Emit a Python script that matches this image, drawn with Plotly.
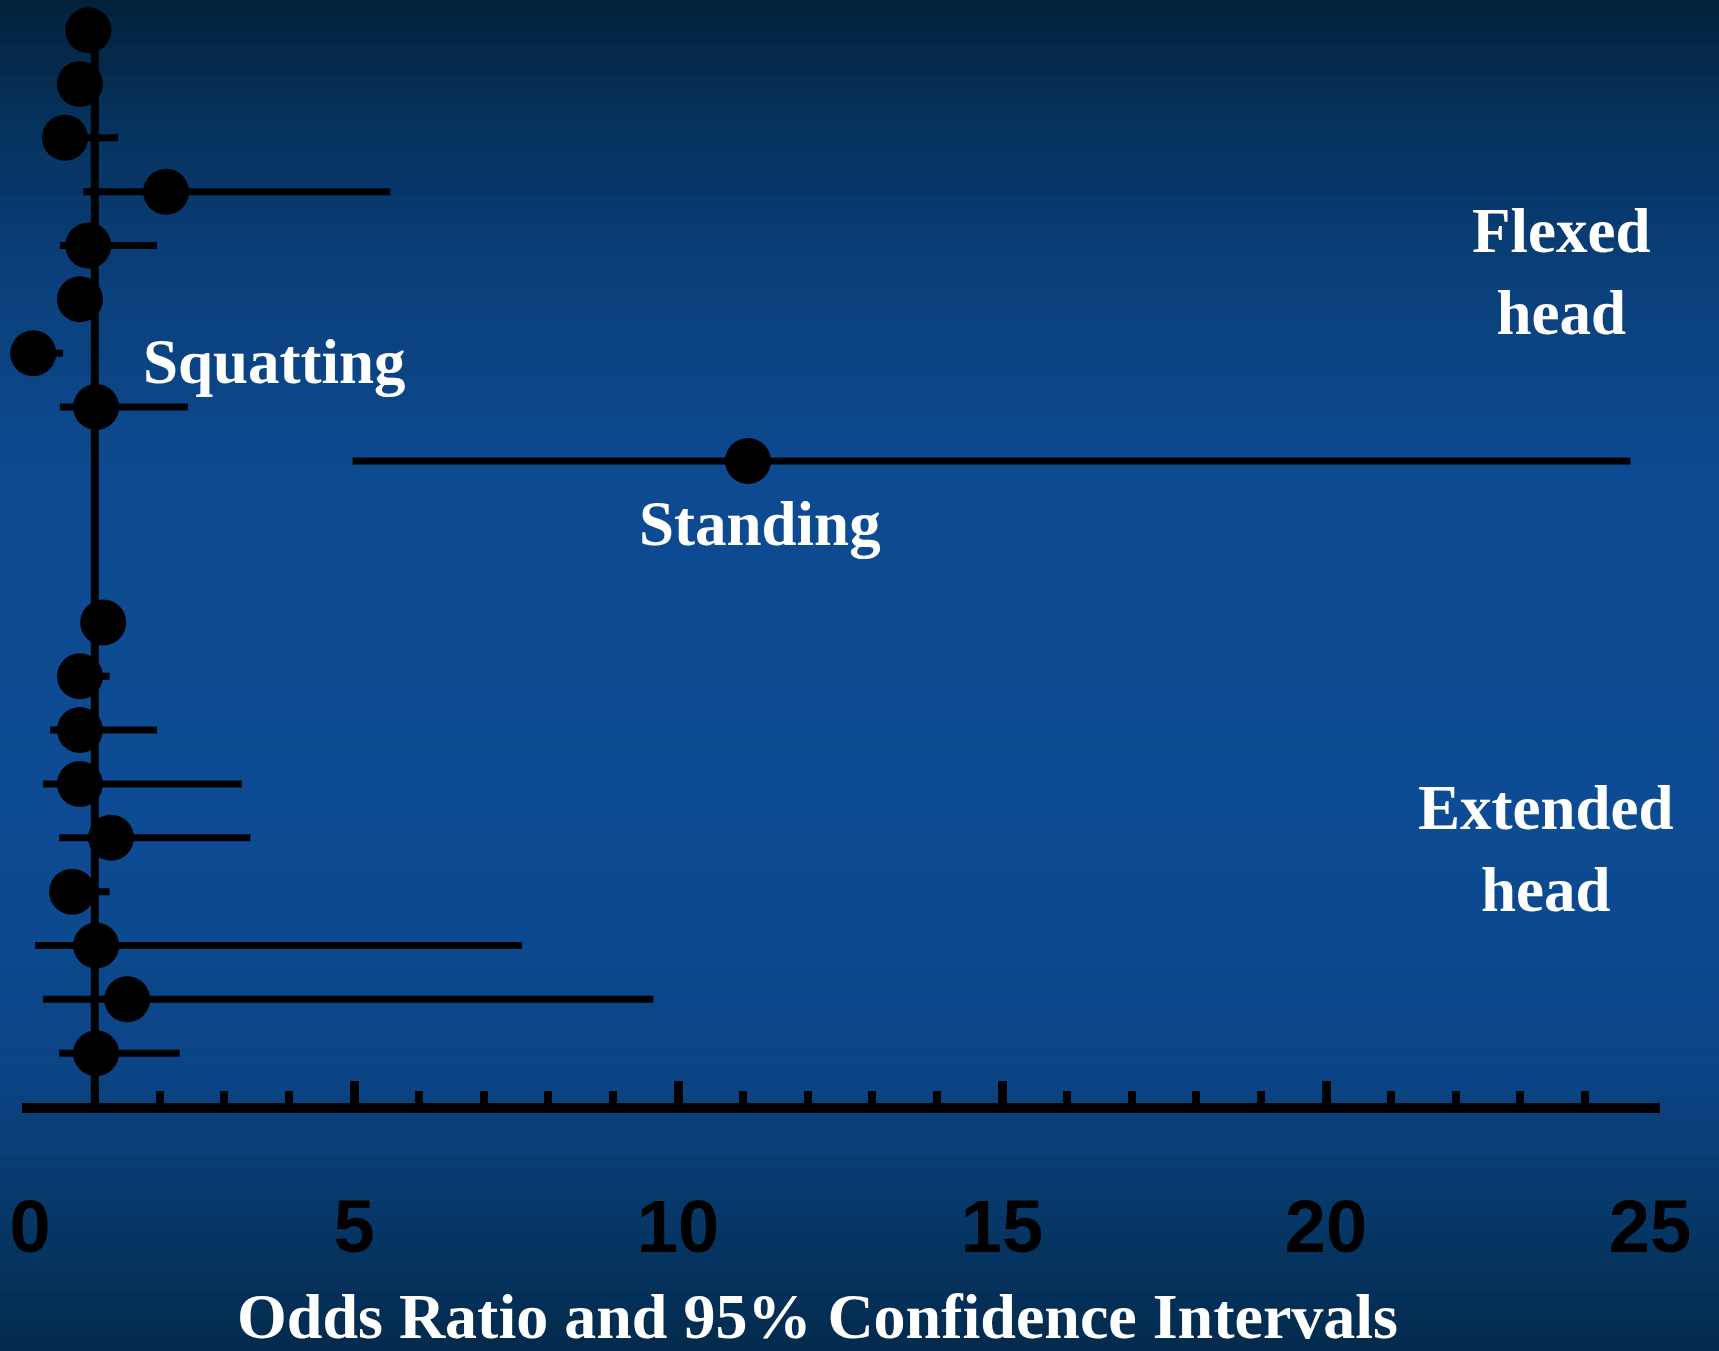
import plotly.graph_objects as go

# ---- data (rows top to bottom; None = empty row) ----
rows = list(range(20))
odds_ratio = [0.90, 0.77, 0.54, 2.10, 0.90, 0.77, 0.05, 1.02, 11.08, None,
              None, 1.13, 0.77, 0.77, 0.77, 1.25, 0.65, 1.02, 1.50, 1.02]
ci_low = [0.70, 0.60, 0.35, 0.82, 0.46, 0.60, 0.02, 0.46, 4.98, None,
          None, 0.95, 0.50, 0.31, 0.20, 0.45, 0.40, 0.08, 0.20, 0.45]
ci_high = [1.10, 0.95, 1.36, 5.56, 1.96, 0.95, 0.51, 2.44, 24.70, None,
           None, 1.30, 1.23, 1.96, 3.27, 3.40, 1.23, 7.59, 9.62, 2.31]
tick_vals = [0, 5, 10, 15, 20, 25]
tick_text = ["0", "5", "10", "15", "20", "25"]
x_title = "Odds Ratio and 95% Confidence Intervals"
group_labels = ["Squatting", "Standing", "Flexed<br>head", "Extended<br>head"]
group_label_x = [3.77, 11.27, 23.62, 23.40]
group_label_y = [6.17, 9.17, 4.5, 15.2]

W, H = 1719, 1351
ml, mr, mt, mb = 30, W - 1650, 0, H - 1107
PW, PH = W - ml - mr, H - mt - mb

def px_to_paper_x(px):
    return (px - ml) / PW

def px_to_paper_y(py):
    return (H - mb - py) / PH

# CI segments
seg_x, seg_y = [], []
for r, lo, hi in zip(rows, ci_low, ci_high):
    if lo is None:
        continue
    seg_x += [lo, hi, None]
    seg_y += [r, r, None]

pts_x = [v for v in odds_ratio if v is not None]
pts_y = [r for r, v in zip(rows, odds_ratio) if v is not None]

fig = go.Figure()
fig.add_trace(go.Scatter(x=seg_x, y=seg_y, mode="lines",
                         line=dict(color="black", width=7),
                         hoverinfo="skip", showlegend=False, cliponaxis=False))
fig.add_trace(go.Scatter(x=pts_x, y=pts_y, mode="markers",
                         marker=dict(color="black", size=46, line=dict(width=0)),
                         showlegend=False, cliponaxis=False))

# background gradient bands (full figure)
stops = [(0.0, (3, 34, 58)), (0.08, (5, 48, 90)), (0.2, (10, 63, 122)),
         (0.35, (13, 74, 144)), (0.6, (13, 76, 148)), (0.8, (11, 68, 133)),
         (0.9, (6, 56, 104)), (1.0, (3, 42, 77))]

def col_at(t):
    for (t0, c0), (t1, c1) in zip(stops[:-1], stops[1:]):
        if t0 <= t <= t1:
            f = (t - t0) / (t1 - t0) if t1 > t0 else 0
            return "rgb(%d,%d,%d)" % tuple(round(a + (b - a) * f) for a, b in zip(c0, c1))
    return "rgb(%d,%d,%d)" % stops[-1][1]

shapes = []
n = 90
for i in range(n):
    t0 = i / n
    t1 = (i + 1) / n
    shapes.append(dict(type="rect", xref="paper", yref="paper", layer="below",
                       x0=px_to_paper_x(-5), x1=px_to_paper_x(W + 5),
                       y0=px_to_paper_y(t1 * H + 1), y1=px_to_paper_y(t0 * H),
                       fillcolor=col_at((t0 + t1) / 2), line=dict(width=0)))

# reference line at OR = 1
shapes.append(dict(type="line", xref="x", yref="y", x0=1, x1=1, y0=0, y1=20,
                   line=dict(color="black", width=8), layer="below"))
# axis baseline slightly extended beyond the end ticks
shapes.append(dict(type="line", xref="paper", yref="paper",
                   x0=px_to_paper_x(22), x1=px_to_paper_x(1660),
                   y0=px_to_paper_y(1108), y1=px_to_paper_y(1108),
                   line=dict(color="black", width=10)))

annotations = []
for txt, ax, ay in zip(group_labels, group_label_x, group_label_y):
    annotations.append(dict(x=ax, y=ay, xref="x", yref="y", text=txt, showarrow=False,
                            font=dict(family="Liberation Serif", size=63, color="white",
                                      weight="bold"),
                            align="center", xanchor="center", yanchor="middle"))
annotations.append(dict(x=px_to_paper_x(817), y=px_to_paper_y(1316),
                        xref="paper", yref="paper", text=x_title,
                        showarrow=False, xanchor="center", yanchor="middle",
                        font=dict(family="Liberation Serif", size=64, color="white",
                                  weight="bold")))

fig.update_layout(
    width=W, height=H,
    margin=dict(l=ml, r=mr, t=mt, b=mb, autoexpand=False),
    paper_bgcolor="#0a3f7a", plot_bgcolor="rgba(0,0,0,0)",
    shapes=shapes, annotations=annotations,
    xaxis=dict(range=[0, 25], showgrid=False, zeroline=False,
               showline=False,
               ticks="inside", ticklen=26, tickwidth=9, tickcolor="black",
               tickvals=tick_vals, ticktext=tick_text,
               ticklabelstandoff=70,
               tickfont=dict(family="Liberation Sans", size=74, color="black",
                             weight="bold"),
               minor=dict(dtick=1, ticks="inside", ticklen=16, tickwidth=8,
                          tickcolor="black", showgrid=False)),
    yaxis=dict(range=[20, -0.56], showgrid=False, zeroline=False, showline=False,
               showticklabels=False, ticks=""),
)

fig.write_html("out.html")
